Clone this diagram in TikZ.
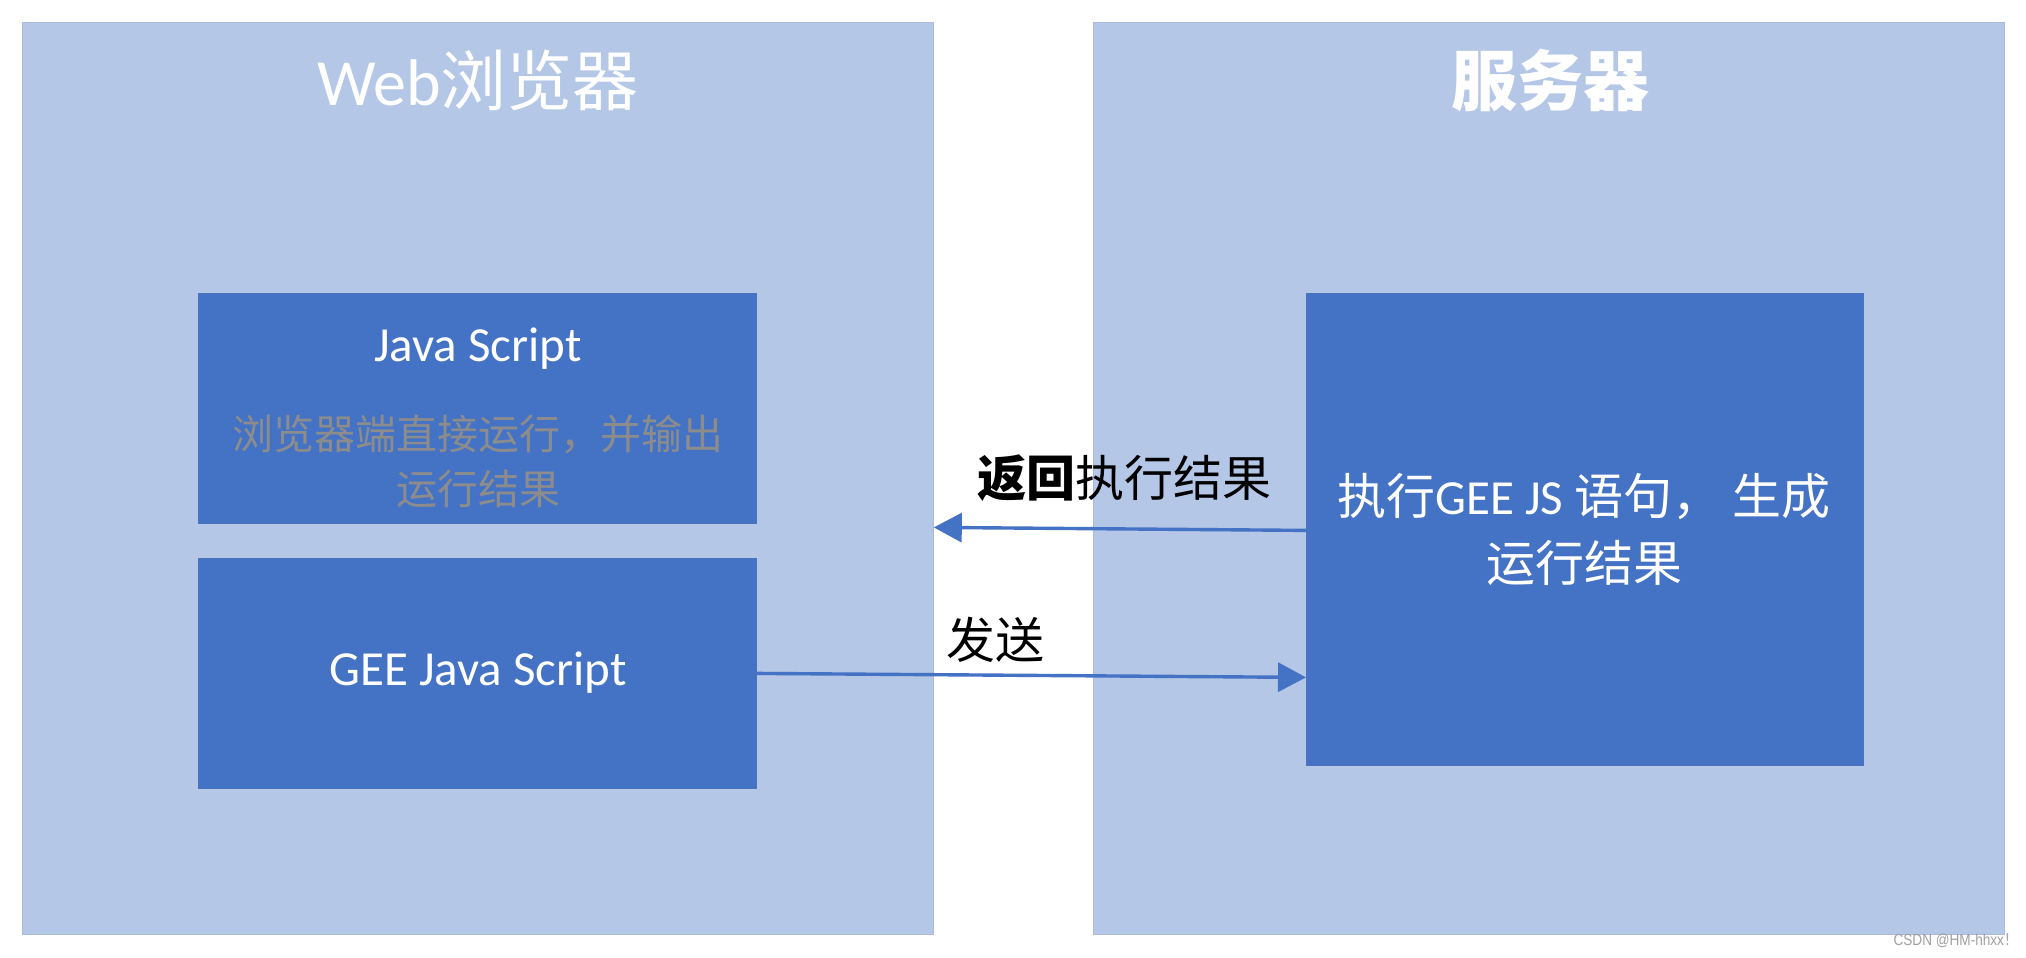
\documentclass[tikz,border=0pt]{standalone}
\usepackage{fontspec}
\setmainfont{Carlito}
\newfontfamily\cjk{Noto Sans CJK SC}
\newfontfamily\wmfont{Liberation Sans}
\usetikzlibrary{arrows.meta,calc}
\definecolor{lightpanel}{HTML}{B4C7E7}
\definecolor{darkbox}{HTML}{4472C4}
\definecolor{greytxt}{HTML}{8C8C8C}
\definecolor{wmgrey}{HTML}{A0A0A0}
\begin{document}
\begin{tikzpicture}[x=0.5pt,y=-0.5pt,
  panel/.style={fill=lightpanel, draw=lightpanel!85!gray, line width=0.4pt, inner sep=0pt, anchor=north west},
  dbox/.style={fill=darkbox, draw=darkbox!85!gray, line width=0.4pt, inner sep=0pt, anchor=north west},
  title/.style={text=white, font=\fontsize{33}{38}\selectfont, inner sep=0pt},
  boxtext/.style={text=white, font=\fontsize{24.5}{33.5}\selectfont, align=center, inner sep=0pt},
  greytext/.style={text=greytxt, font=\cjk\fontsize{20.5}{27.5}\selectfont, align=center, inner sep=0pt},
  lbl/.style={text=black, font=\cjk\fontsize{24.5}{30}\selectfont, inner sep=0pt},
  arr/.style={draw=darkbox, line width=1.7pt, -{Triangle[length=14pt,width=14.5pt]}}
]
\useasboundingbox (0,0) rectangle (2026,958);
\fill[white] (0,0) rectangle (2026,958);

% panels
\node[panel, minimum width=455.5pt, minimum height=456pt] (web) at (22,22) {};
\node[panel, minimum width=455.5pt, minimum height=456pt] (srvpanel) at (1093,22) {};

% inner boxes
\node[dbox, minimum width=279pt, minimum height=115pt] (js) at (198,293) {};
\node[dbox, minimum width=279pt, minimum height=115pt] (gee) at (198,558) {};
\node[dbox, minimum width=278.5pt, minimum height=236pt] (srv) at (1306,293) {};

% titles
\node[title] (webtitle) at (478,80) {Web{\cjk 浏览器}};
\node[title] (srvtitle) at (1550,80) {{\cjk\bfseries 服务器}};

% texts
\node[boxtext] (jstext) at (478,349) {Java Script};
\node[greytext] (jsdesc) at (478,461) {浏览器端直接运行，并输出\\运行结果};
\node[boxtext] (geetext) at (478,673) {GEE Java Script};
\node[boxtext] (srvtext) at (1584,529) {{\cjk 执行}GEE JS {\cjk 语句，} {\cjk 生成}\\{\cjk 运行结果}};

% connectors
\draw[arr] ([yshift=-0.5pt]srv.west) -- ([yshift=-24.5pt]web.east);
\draw[arr] (gee.east) -- ([yshift=-74pt]srv.west);

% labels
\node[lbl] (retlbl) at (1124,478) {{\bfseries 返回}执行结果};
\node[lbl] (sendlbl) at (995,640) {发送};

% watermark
\node[text=wmgrey, font=\wmfont\fontsize{8}{9}\selectfont, inner sep=0pt, anchor=east, xscale=0.85] (wm) at (2018,941) {CSDN @HM-hhxx{\cjk ！}};
\end{tikzpicture}
\end{document}
